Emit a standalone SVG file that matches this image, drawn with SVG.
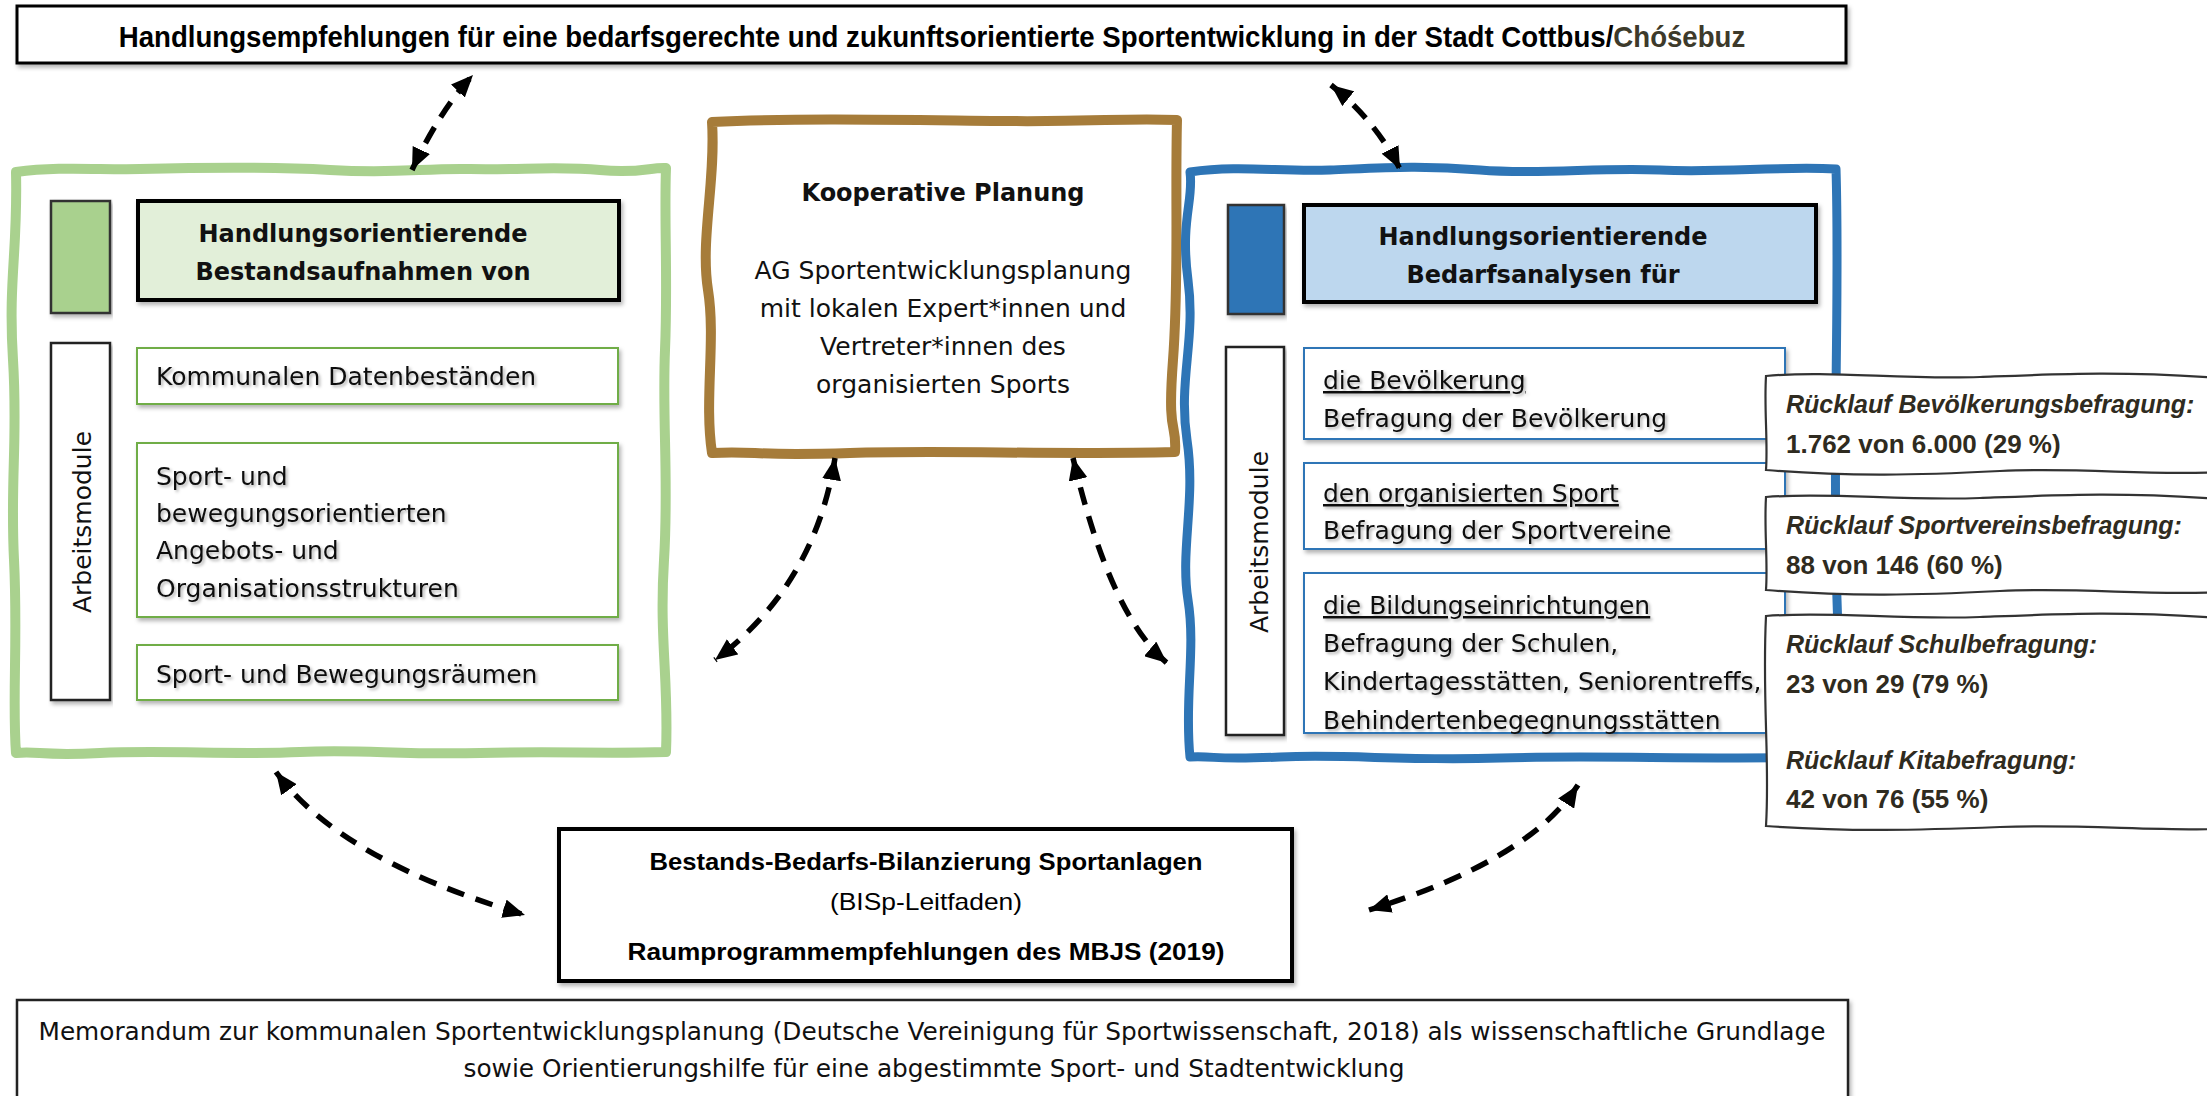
<svg xmlns="http://www.w3.org/2000/svg" width="2207" height="1096" viewBox="0 0 2207 1096">
<defs>
<style>
.reg{font-family:"DejaVu Sans",sans-serif;font-size:25px;fill:#111}
.bold{font-family:"DejaVu Sans",sans-serif;font-size:24px;font-weight:bold;fill:#111}
.cond{font-family:"Liberation Sans",Arial,sans-serif;font-weight:bold;fill:#000}
.condr{font-family:"Liberation Sans",Arial,sans-serif;fill:#000}
.cb{font-family:"Liberation Sans",Arial,sans-serif;font-size:26px;font-weight:bold;fill:#2f2b20}
.cbi{font-family:"Liberation Sans",Arial,sans-serif;font-size:25px;font-weight:bold;font-style:italic;fill:#2f2b20}
.ul{text-decoration:underline}
.conn{fill:none;stroke:#000;stroke-width:5.5;stroke-dasharray:18 12;marker-start:url(#ah);marker-end:url(#ah)}
.gitem{fill:#fff;stroke:#70ad47;stroke-width:2}
.bitem{fill:#fff;stroke:#2e75b6;stroke-width:2}
.am{fill:#fff;stroke:#222;stroke-width:2.5}
.callout{fill:#fff;stroke:#333;stroke-width:2.2}
</style>
<marker id="ah" viewBox="0 0 22 19" refX="22" refY="9.5" markerWidth="22" markerHeight="19" markerUnits="userSpaceOnUse" orient="auto-start-reverse">
<path d="M0,0 L22,9.5 L0,19 Z" fill="#000"/>
</marker>
<filter id="sh" x="-5%" y="-5%" width="110%" height="120%">
<feDropShadow dx="2" dy="3" stdDeviation="2" flood-color="#000" flood-opacity="0.3"/>
</filter>
<filter id="tsh" x="-5%" y="-20%" width="110%" height="150%">
<feDropShadow dx="2" dy="2" stdDeviation="1.5" flood-color="#000" flood-opacity="0.3"/>
</filter>
</defs>
<rect width="2207" height="1096" fill="#fff"/>

<g id="title">
<rect x="17" y="6" width="1829" height="57" fill="#fff" stroke="#000" stroke-width="3" filter="url(#sh)"/>
<text class="cond" font-size="30" text-anchor="middle" transform="translate(932,47) scale(0.921,1)">Handlungsempfehlungen für eine bedarfsgerechte und zukunftsorientierte Sportentwicklung in der Stadt Cottbus/<tspan style="fill:#3d3a2b">Chóśebuz</tspan></text>
</g>

<g id="bestand">
<path d="M16,172 C60,166 100,170 140,169 S260,166 330,170 S420,168 470,169 S560,166 600,170 S650,167 666,168 C664,220 668,280 665,350 S669,480 664,560 S669,680 666,752 C600,754 560,751 480,753 S360,749 300,752 S160,750 100,753 S40,751 16,753 C12,700 18,640 14,560 S18,440 13,360 S18,250 16,172 Z" fill="none" stroke="#a9d18e" stroke-width="10" stroke-linejoin="round"/>
<rect x="51" y="201" width="59" height="112" fill="#a9d18e" stroke="#333" stroke-width="2.5" filter="url(#sh)"/>
<rect x="138" y="201" width="481" height="99" fill="#e2efd9" stroke="#000" stroke-width="4" filter="url(#sh)"/>
<text class="bold" x="363" y="242" text-anchor="middle">Handlungsorientierende</text>
<text class="bold" x="363" y="280" text-anchor="middle">Bestandsaufnahmen von</text>
<rect class="am" x="51" y="343" width="59" height="357" filter="url(#sh)"/>
<text class="reg" transform="translate(91,522) rotate(-90)" text-anchor="middle">Arbeitsmodule</text>
<rect class="gitem" x="137" y="348" width="481" height="56" filter="url(#sh)"/>
<text class="reg" x="156" y="385" filter="url(#tsh)">Kommunalen Datenbeständen</text>
<rect class="gitem" x="137" y="443" width="481" height="174" filter="url(#sh)"/>
<text class="reg" x="156" y="485" filter="url(#tsh)">Sport- und</text>
<text class="reg" x="156" y="522" filter="url(#tsh)">bewegungsorientierten</text>
<text class="reg" x="156" y="559" filter="url(#tsh)">Angebots- und</text>
<text class="reg" x="156" y="597" filter="url(#tsh)">Organisationsstrukturen</text>
<rect class="gitem" x="137" y="645" width="481" height="55" filter="url(#sh)"/>
<text class="reg" x="156" y="683" filter="url(#tsh)">Sport- und Bewegungsräumen</text>
</g>

<g id="kooperativ">
<path d="M712,122 C800,118 900,120 1000,121 S1120,118 1177,120 C1175,200 1179,280 1173,360 S1177,420 1175,452 C1050,455 950,450 850,453 S760,451 712,453 C704,400 716,340 708,290 S716,180 712,122 Z" fill="#fff" stroke="#a67c3a" stroke-width="10" stroke-linejoin="round"/>
<text class="bold" x="943" y="201" text-anchor="middle">Kooperative Planung</text>
<text class="reg" x="943" y="279" text-anchor="middle">AG Sportentwicklungsplanung</text>
<text class="reg" x="943" y="317" text-anchor="middle">mit lokalen Expert*innen und</text>
<text class="reg" x="943" y="355" text-anchor="middle">Vertreter*innen des</text>
<text class="reg" x="943" y="393" text-anchor="middle">organisierten Sports</text>
</g>

<g id="bedarf">
<path d="M1190,172 C1240,165 1280,172 1330,170 S1420,165 1480,170 S1600,167 1660,170 S1780,166 1836,169 C1840,300 1832,450 1837,600 S1834,700 1836,757 C1700,760 1600,755 1500,758 S1350,754 1280,757 S1220,756 1190,757 C1184,700 1196,650 1188,600 S1196,500 1187,440 S1196,340 1188,280 S1194,200 1190,172 Z" fill="none" stroke="#2e75b6" stroke-width="9" stroke-linejoin="round"/>
<rect x="1228" y="205" width="56" height="109" fill="#2e75b6" stroke="#333" stroke-width="2.5" filter="url(#sh)"/>
<rect x="1304" y="205" width="512" height="97" fill="#bdd7ee" stroke="#000" stroke-width="4" filter="url(#sh)"/>
<text class="bold" x="1543" y="245" text-anchor="middle">Handlungsorientierende</text>
<text class="bold" x="1543" y="283" text-anchor="middle">Bedarfsanalysen für</text>
<rect class="am" x="1226" y="347" width="58" height="388" filter="url(#sh)"/>
<text class="reg" transform="translate(1268,542) rotate(-90)" text-anchor="middle">Arbeitsmodule</text>
<rect class="bitem" x="1304" y="348" width="481" height="91" filter="url(#sh)"/>
<text class="reg ul" x="1323" y="389" filter="url(#tsh)">die Bevölkerung</text>
<text class="reg" x="1323" y="427" filter="url(#tsh)">Befragung der Bevölkerung</text>
<rect class="bitem" x="1304" y="463" width="481" height="86" filter="url(#sh)"/>
<text class="reg ul" x="1323" y="502" filter="url(#tsh)">den organisierten Sport</text>
<text class="reg" x="1323" y="539" filter="url(#tsh)">Befragung der Sportvereine</text>
<rect class="bitem" x="1304" y="573" width="481" height="160" filter="url(#sh)"/>
<text class="reg ul" x="1323" y="614" filter="url(#tsh)">die Bildungseinrichtungen</text>
<text class="reg" x="1323" y="652" filter="url(#tsh)">Befragung der Schulen,</text>
<text class="reg" x="1323" y="690" filter="url(#tsh)">Kindertagesstätten, Seniorentreffs,</text>
<text class="reg" x="1323" y="729" filter="url(#tsh)">Behindertenbegegnungsstätten</text>
</g>

<g id="ruecklauf-bevoelkerung">
<path class="callout" d="M1766,376 C1830,370 1900,380 1980,377 S2120,371 2220,378 L2220,472 C2150,476 2080,467 2000,471 S1850,477 1766,470 C1768,440 1764,410 1766,376 Z"/>
<text class="cbi" x="1786" y="413">Rücklauf Bevölkerungsbefragung:</text>
<text class="cb" x="1786" y="453">1.762 von 6.000 (29 %)</text>
</g>
<g id="ruecklauf-sportvereine">
<path class="callout" d="M1766,497 C1830,492 1900,501 1980,498 S2120,492 2220,499 L2220,592 C2150,596 2080,587 2000,591 S1850,597 1766,590 C1768,560 1764,530 1766,497 Z"/>
<text class="cbi" x="1786" y="534">Rücklauf Sportvereinsbefragung:</text>
<text class="cb" x="1786" y="574">88 von 146 (60 %)</text>
</g>
<g id="ruecklauf-schulen-kitas">
<path class="callout" d="M1766,616 C1830,611 1900,620 1980,617 S2120,611 2220,618 L2220,829 C2150,831 2080,824 2000,827 S1850,832 1766,826 C1770,760 1762,700 1766,616 Z"/>
<text class="cbi" x="1786" y="653">Rücklauf Schulbefragung:</text>
<text class="cb" x="1786" y="693">23 von 29 (79 %)</text>
<text class="cbi" x="1786" y="769">Rücklauf Kitabefragung:</text>
<text class="cb" x="1786" y="808">42 von 76 (55 %)</text>
</g>

<g id="bilanzierung">
<rect x="559" y="829" width="733" height="152" fill="#fff" stroke="#000" stroke-width="4" filter="url(#sh)"/>
<text class="cond" x="926" y="870" font-size="24" text-anchor="middle" textLength="553" lengthAdjust="spacingAndGlyphs">Bestands-Bedarfs-Bilanzierung Sportanlagen</text>
<text class="condr" x="926" y="910" font-size="24" text-anchor="middle" textLength="192" lengthAdjust="spacingAndGlyphs">(BISp-Leitfaden)</text>
<text class="cond" x="926" y="960" font-size="24" text-anchor="middle" textLength="597" lengthAdjust="spacingAndGlyphs">Raumprogrammempfehlungen des MBJS (2019)</text>
</g>

<g id="memorandum">
<rect x="17" y="1000" width="1831" height="110" fill="#fff" stroke="#222" stroke-width="2.5" filter="url(#sh)"/>
<text class="reg" x="932" y="1040" font-size="23" text-anchor="middle" textLength="1787" lengthAdjust="spacingAndGlyphs">Memorandum zur kommunalen Sportentwicklungsplanung (Deutsche Vereinigung für Sportwissenschaft, 2018) als wissenschaftliche Grundlage</text>
<text class="reg" x="934" y="1077" font-size="23" text-anchor="middle" textLength="941" lengthAdjust="spacingAndGlyphs">sowie Orientierungshilfe für eine abgestimmte Sport- und Stadtentwicklung</text>
</g>

<g id="connectors">
<path class="conn" d="M412,170 Q440,110 473,75"/>
<path class="conn" d="M1331,85 Q1375,120 1400,169"/>
<path class="conn" d="M835,458 Q815,585 715,660"/>
<path class="conn" d="M1073,458 Q1110,615 1167,663"/>
<path class="conn" d="M276,772 Q340,860 525,915"/>
<path class="conn" d="M1578,785 Q1530,860 1369,910"/>
</g>
</svg>
